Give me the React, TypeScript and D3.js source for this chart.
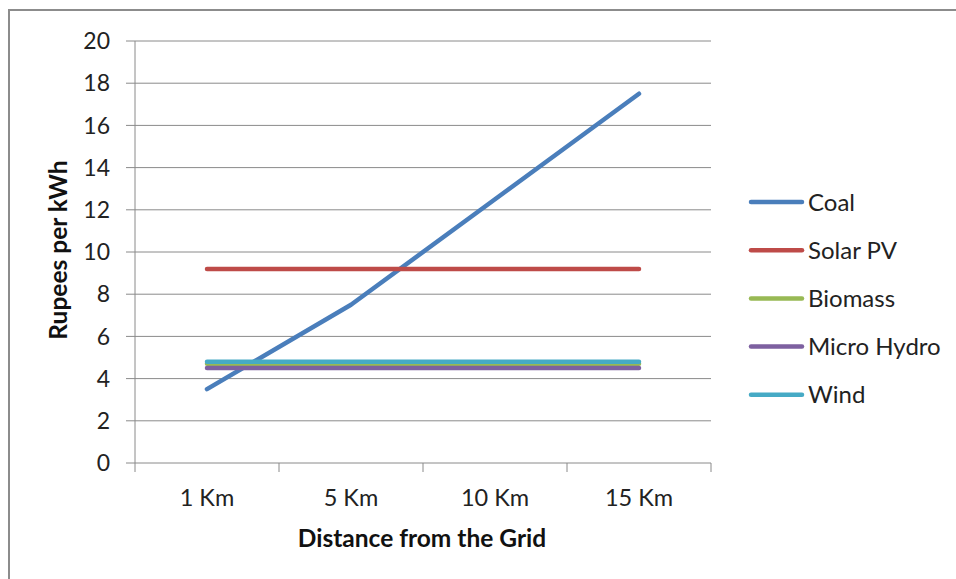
import React from "react";
import * as d3 from "d3";

const categories = ["1 Km", "5 Km", "10 Km", "15 Km"];
const seriesNames = ["Coal", "Solar PV", "Biomass", "Micro Hydro", "Wind"];
const coal = [3.5, 7.5, 12.5, 17.5];
const solarPV = [9.2, 9.2, 9.2, 9.2];
const biomass = [4.7, 4.7, 4.7, 4.7];
const microHydro = [4.5, 4.5, 4.5, 4.5];
const wind = [4.8, 4.8, 4.8, 4.8];
const yTicks = [0, 2, 4, 6, 8, 10, 12, 14, 16, 18, 20];
const colors = ["#4A7EBB", "#BE4B48", "#98B954", "#7D60A0", "#46AAC5"];

const W = 956;
const H = 579;
const left = 135;
const right = 711;
const top = 41;
const bottom = 463;
const FONT = "Lato, 'Open Sans', sans-serif";

export default function App() {
  const allSeries = [coal, solarPV, biomass, microHydro, wind];
  const x = d3.scaleBand<string>().domain(categories).range([left, right]);
  const y = d3.scaleLinear().domain([0, 20]).range([bottom, top]);
  const line = d3
    .line<number>()
    .x((_, i) => (x(categories[i]) as number) + x.bandwidth() / 2)
    .y((d) => y(d));
  const boundaries = categories.map((c) => x(c) as number).concat([right]);

  return (
    <svg
      width={W}
      height={H}
      style={{ position: "absolute", left: 0, top: 0, background: "#fff" }}
      fontFamily={FONT}
    >
      {/* outer chart frame */}
      <path d={`M9,${H} L9,10 L${W},10`} fill="none" stroke="#8c8c8c" strokeWidth={2} />

      {/* horizontal gridlines with left ticks */}
      {yTicks.map((t) => (
        <line key={t} x1={126} x2={right} y1={y(t)} y2={y(t)} stroke="#8a8a8a" strokeWidth={1} />
      ))}
      {/* y axis */}
      <line x1={left} x2={left} y1={top} y2={bottom} stroke="#8a8a8a" strokeWidth={1} />
      {/* x axis ticks */}
      {boundaries.map((b, i) => (
        <line key={i} x1={b} x2={b} y1={bottom} y2={bottom + 9} stroke="#8a8a8a" strokeWidth={1} />
      ))}

      {yTicks.map((t) => (
        <text key={t} x={110} y={y(t)} dy="0.36em" textAnchor="end" fontSize={23} fill="#222">
          {t}
        </text>
      ))}
      {categories.map((c) => (
        <text
          key={c}
          x={(x(c) as number) + x.bandwidth() / 2}
          y={506}
          textAnchor="middle"
          fontSize={23.5}
          fill="#222"
        >
          {c}
        </text>
      ))}

      <text x={422} y={547} textAnchor="middle" fontSize={24.5} fontWeight="bold" fill="#111">
        Distance from the Grid
      </text>
      <text
        transform={`translate(67,250) rotate(-90)`}
        textAnchor="middle"
        fontSize={24.5}
        fontWeight="bold"
        fill="#111"
      >
        Rupees per kWh
      </text>

      {allSeries.map((s, i) => (
        <path
          key={seriesNames[i]}
          d={line(s) as string}
          fill="none"
          stroke={colors[i]}
          strokeWidth={4.5}
          strokeLinecap="round"
          strokeLinejoin="round"
        />
      ))}

      {seriesNames.map((n, i) => {
        const ly = 202 + i * 48.2;
        return (
          <g key={n}>
            <line x1={751} x2={802} y1={ly} y2={ly} stroke={colors[i]} strokeWidth={4.5} strokeLinecap="round" />
            <text x={808} y={ly} dy="0.36em" fontSize={24} fill="#222">
              {n}
            </text>
          </g>
        );
      })}
    </svg>
  );
}
